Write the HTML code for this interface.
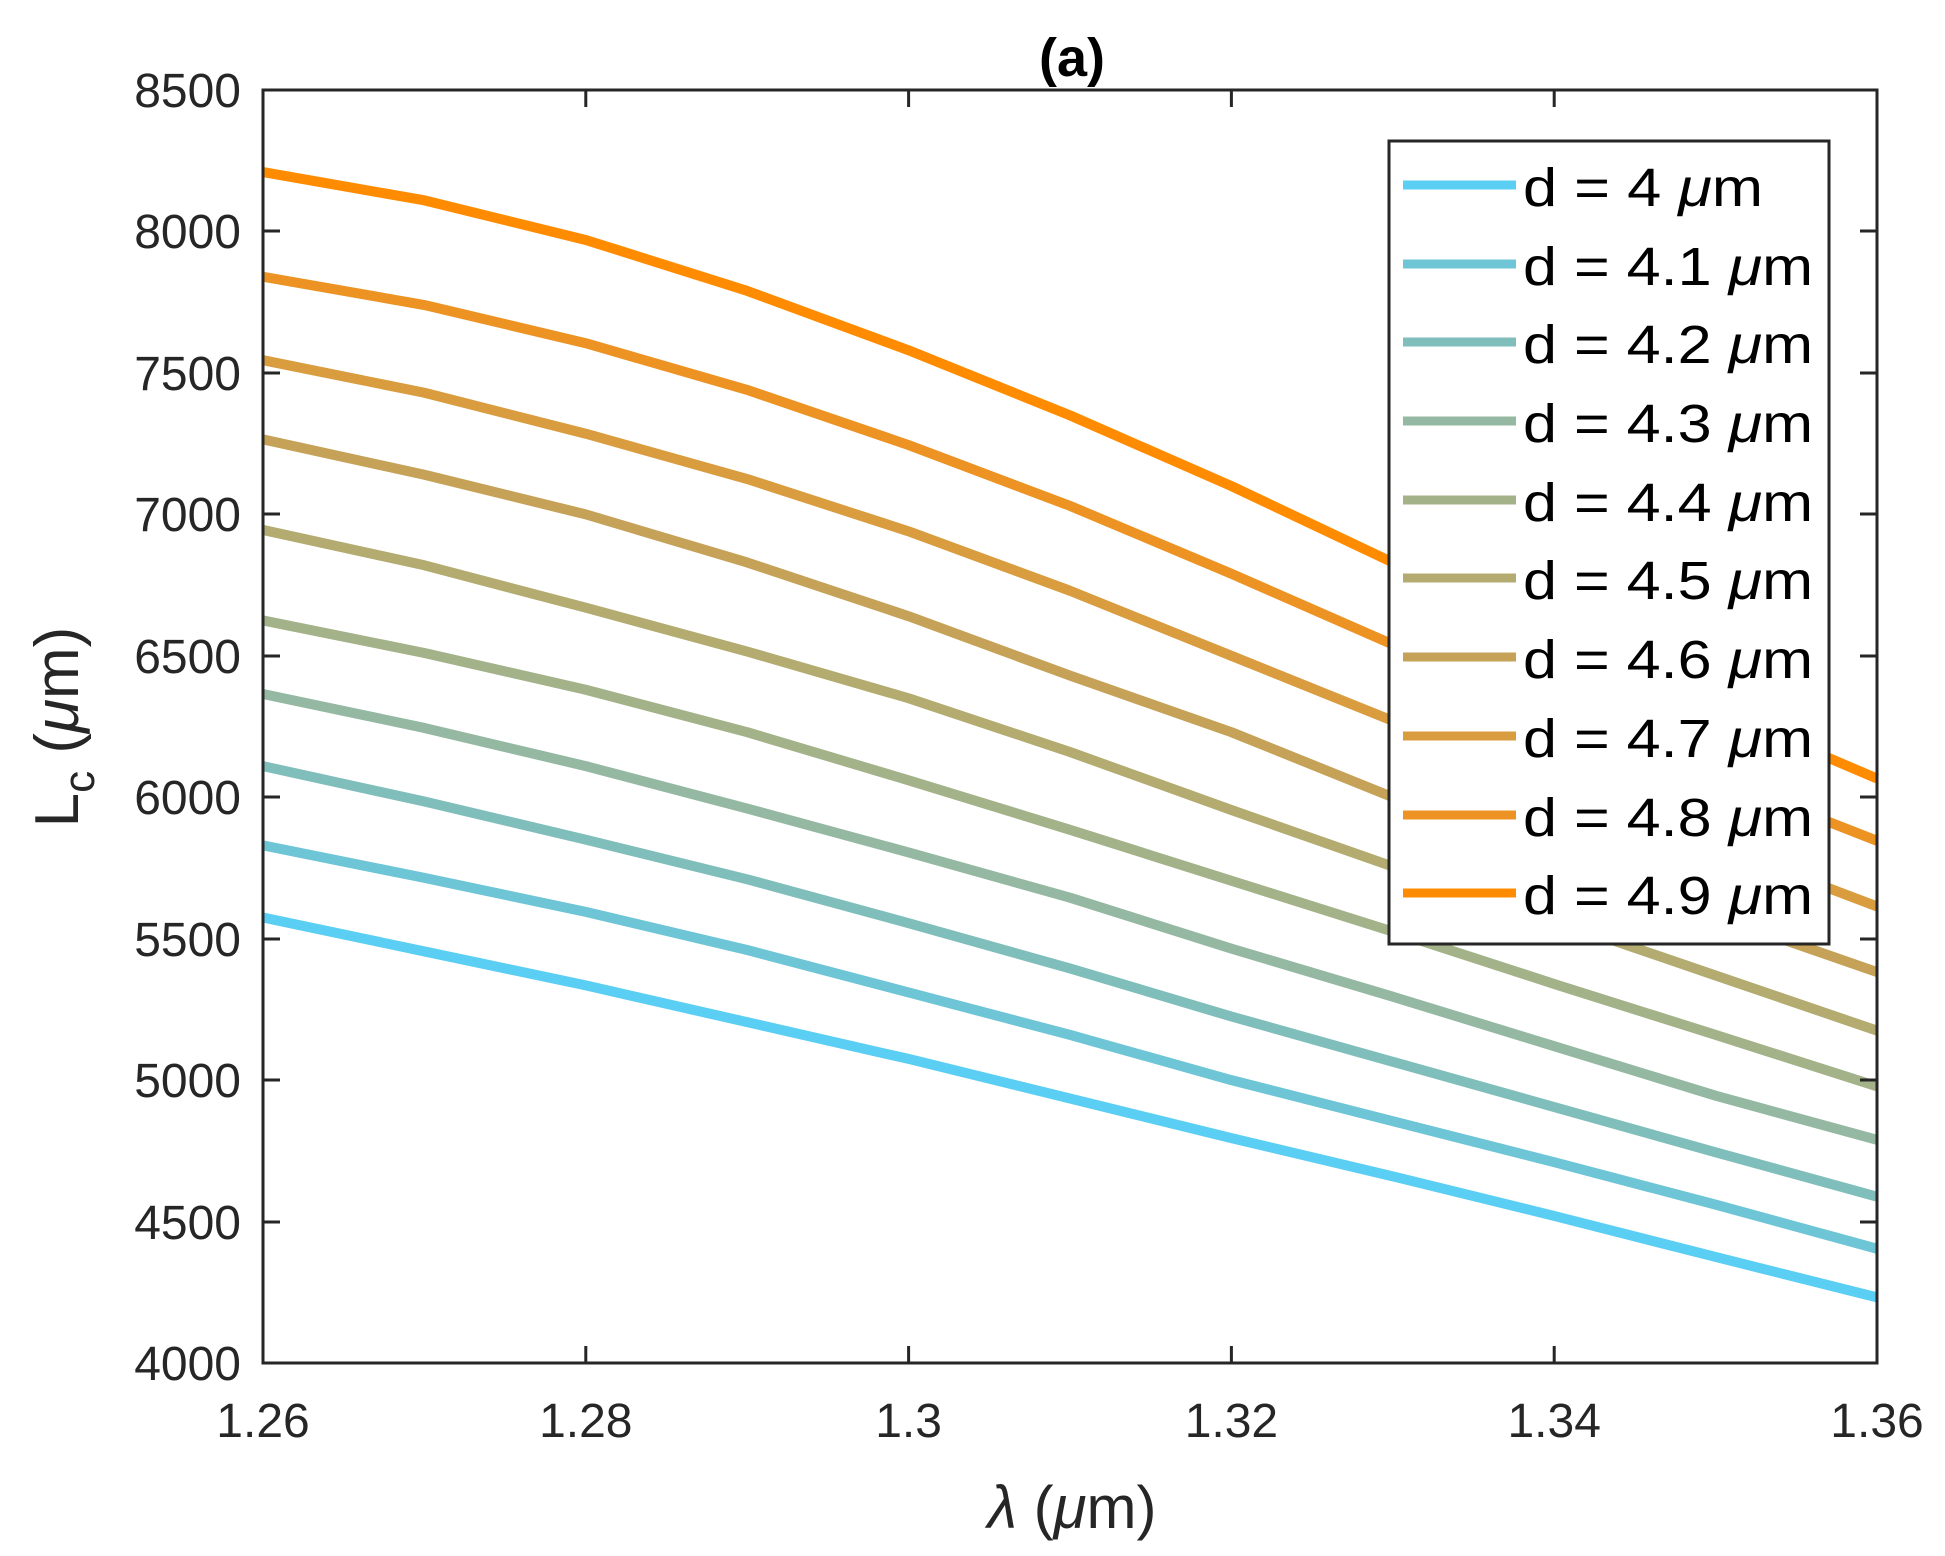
<!DOCTYPE html>
<html><head><meta charset="utf-8"><style>
html,body{margin:0;padding:0;background:#fff;}
svg{display:block;font-family:"Liberation Sans",Arial,sans-serif;}
</style></head><body>
<svg width="1945" height="1556" viewBox="0 0 1945 1556" xmlns="http://www.w3.org/2000/svg">
<rect width="1945" height="1556" fill="#fff"/>
<g transform="translate(263,2494.6) scale(161.4,-0.28289)" fill="none" stroke-width="10" stroke-linejoin="round">
<polyline vector-effect="non-scaling-stroke" stroke="#5BCEF4" points="0,5575 1,5455 2,5335 3,5205 4,5075 5,4935 6,4795 7,4660 8,4520 9,4375 10,4232"/>
<polyline vector-effect="non-scaling-stroke" stroke="#6DC5D6" points="0,5830 1,5715 2,5595 3,5460 4,5310 5,5160 6,5000 7,4855 8,4710 9,4560 10,4404"/>
<polyline vector-effect="non-scaling-stroke" stroke="#80BEBB" points="0,6110 1,5985 2,5850 3,5710 4,5555 5,5395 6,5225 7,5065 8,4905 9,4745 10,4588"/>
<polyline vector-effect="non-scaling-stroke" stroke="#94B8A2" points="0,6365 1,6245 2,6110 3,5960 4,5805 5,5645 6,5465 7,5295 8,5120 9,4945 10,4789"/>
<polyline vector-effect="non-scaling-stroke" stroke="#A3B289" points="0,6625 1,6510 2,6380 3,6230 4,6060 5,5885 6,5705 7,5525 8,5340 9,5160 10,4978"/>
<polyline vector-effect="non-scaling-stroke" stroke="#B3AB70" points="0,6945 1,6820 2,6670 3,6515 4,6350 5,6160 6,5955 7,5755 8,5565 9,5370 10,5175"/>
<polyline vector-effect="non-scaling-stroke" stroke="#C5A257" points="0,7265 1,7140 2,7000 3,6830 4,6640 5,6430 6,6230 7,6000 8,5790 9,5580 10,5382"/>
<polyline vector-effect="non-scaling-stroke" stroke="#D99C3E" points="0,7545 1,7430 2,7285 3,7125 4,6940 5,6730 6,6500 7,6270 8,6050 9,5830 10,5614"/>
<polyline vector-effect="non-scaling-stroke" stroke="#EC9323" points="0,7840 1,7740 2,7605 3,7440 4,7245 5,7030 6,6790 7,6540 8,6300 9,6070 10,5846"/>
<polyline vector-effect="non-scaling-stroke" stroke="#FF8C00" points="0,8210 1,8110 2,7970 3,7790 4,7580 5,7350 6,7100 7,6830 8,6560 9,6310 10,6066"/>
</g>
<rect x="263" y="90" width="1614" height="1273" fill="none" stroke="#262626" stroke-width="3"/>
<g stroke="#262626" stroke-width="3">
<path d="M263 231h17M263 373h17M263 514h17M263 656h17M263 797h17M263 939h17M263 1080h17M263 1222h17
M1877 231h-17M1877 373h-17M1877 514h-17M1877 656h-17M1877 797h-17M1877 939h-17M1877 1080h-17M1877 1222h-17"/>
<path d="M585.8 1363v-17M908.6 1363v-17M1231.4 1363v-17M1554.2 1363v-17
M585.8 90v17M908.6 90v17M1231.4 90v17M1554.2 90v17"/>
</g>
<g fill="#262626" font-size="48" text-anchor="end">
<text x="241" y="107">8500</text>
<text x="241" y="248">8000</text>
<text x="241" y="390">7500</text>
<text x="241" y="531">7000</text>
<text x="241" y="673">6500</text>
<text x="241" y="814">6000</text>
<text x="241" y="956">5500</text>
<text x="241" y="1097">5000</text>
<text x="241" y="1239">4500</text>
<text x="241" y="1380">4000</text>
</g>
<g fill="#262626" font-size="48" text-anchor="middle">
<text x="263" y="1437">1.26</text>
<text x="585.8" y="1437">1.28</text>
<text x="908.6" y="1437">1.3</text>
<text x="1231.4" y="1437">1.32</text>
<text x="1554.2" y="1437">1.34</text>
<text x="1877" y="1437">1.36</text>
</g>
<text x="1072" y="76" font-size="54" font-weight="bold" text-anchor="middle" fill="#000">(a)</text>
<text x="1072" y="1528" font-size="60" text-anchor="middle" fill="#262626"><tspan font-style="italic">λ</tspan> (<tspan font-style="italic">μ</tspan>m)</text>
<text transform="translate(78,727) rotate(-90)" font-size="62" text-anchor="middle" fill="#262626">L<tspan font-size="44" dy="16">c</tspan><tspan dy="-16"> (</tspan><tspan font-style="italic">μ</tspan>m)</text>
<rect x="1389" y="141" width="440" height="803" fill="#fff" stroke="#262626" stroke-width="3"/>
<g stroke-width="9">
<path d="M1403 185h113" stroke="#5BCEF4"/>
<path d="M1403 264h113" stroke="#6DC5D6"/>
<path d="M1403 342h113" stroke="#80BEBB"/>
<path d="M1403 421h113" stroke="#94B8A2"/>
<path d="M1403 500h113" stroke="#A3B289"/>
<path d="M1403 578h113" stroke="#B3AB70"/>
<path d="M1403 657h113" stroke="#C5A257"/>
<path d="M1403 736h113" stroke="#D99C3E"/>
<path d="M1403 815h113" stroke="#EC9323"/>
<path d="M1403 893h113" stroke="#FF8C00"/>
</g>
<g font-size="54" fill="#000">
<text x="1523" y="206" textLength="240" lengthAdjust="spacingAndGlyphs">d = 4 <tspan font-style="italic">μ</tspan>m</text>
<text x="1523" y="285" textLength="290" lengthAdjust="spacingAndGlyphs">d = 4.1 <tspan font-style="italic">μ</tspan>m</text>
<text x="1523" y="363" textLength="290" lengthAdjust="spacingAndGlyphs">d = 4.2 <tspan font-style="italic">μ</tspan>m</text>
<text x="1523" y="442" textLength="290" lengthAdjust="spacingAndGlyphs">d = 4.3 <tspan font-style="italic">μ</tspan>m</text>
<text x="1523" y="521" textLength="290" lengthAdjust="spacingAndGlyphs">d = 4.4 <tspan font-style="italic">μ</tspan>m</text>
<text x="1523" y="599" textLength="290" lengthAdjust="spacingAndGlyphs">d = 4.5 <tspan font-style="italic">μ</tspan>m</text>
<text x="1523" y="678" textLength="290" lengthAdjust="spacingAndGlyphs">d = 4.6 <tspan font-style="italic">μ</tspan>m</text>
<text x="1523" y="757" textLength="290" lengthAdjust="spacingAndGlyphs">d = 4.7 <tspan font-style="italic">μ</tspan>m</text>
<text x="1523" y="836" textLength="290" lengthAdjust="spacingAndGlyphs">d = 4.8 <tspan font-style="italic">μ</tspan>m</text>
<text x="1523" y="914" textLength="290" lengthAdjust="spacingAndGlyphs">d = 4.9 <tspan font-style="italic">μ</tspan>m</text>
</g>
</svg>
</body></html>
